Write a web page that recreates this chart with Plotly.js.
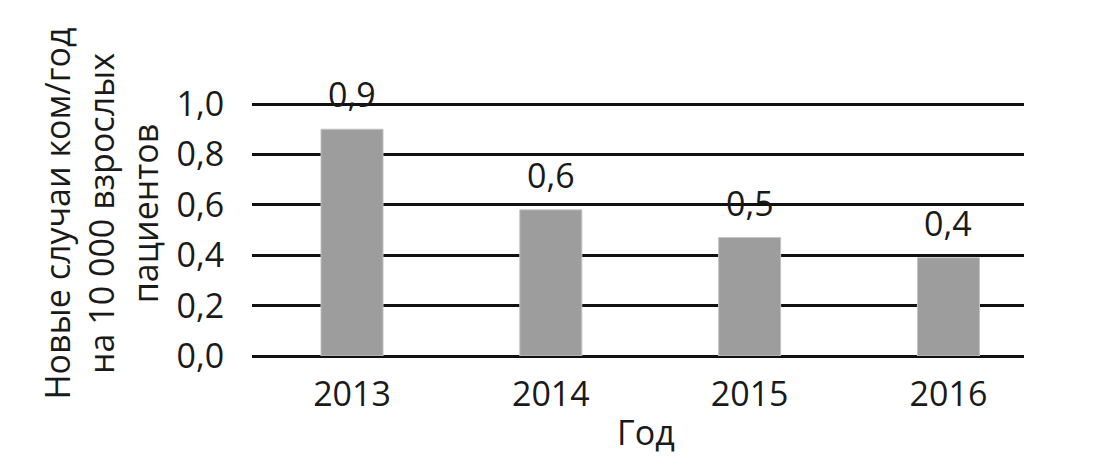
<!DOCTYPE html>
<html>
<head>
<meta charset="utf-8">
<script src="https://cdn.plot.ly/plotly-3.0.1.min.js"></script>
<style>html,body{margin:0;padding:0;background:#fff;}#chart{width:1114px;height:466px;}</style>
</head>
<body>
<div id="chart"></div>
<script>
const years = ['2013', '2014', '2015', '2016'];
const values = [0.9, 0.58, 0.47, 0.39];
const valueLabels = ['0,9', '0,6', '0,5', '0,4'];
const yTickVals = [0, 0.2, 0.4, 0.6, 0.8, 1.0];
const yTickText = ['0,0', '0,2', '0,4', '0,6', '0,8', '1,0'];
const yTitle = 'Новые случаи ком/год<br>на 10 000 взрослых<br>пациентов';
const xTitle = 'Год';

const FONT = '"Open Sans", "Noto Sans", sans-serif';
const TXT = '#1a1a1a';

const trace = {
  type: 'bar',
  x: years,
  y: values,
  width: 0.312,
  marker: {color: '#9d9d9d', line: {color: '#c4c4c4', width: 1}},
  hoverinfo: 'none'
};

const annotations = years.map((yr, i) => ({
  x: i, y: values[i], xref: 'x', yref: 'y',
  text: valueLabels[i], showarrow: false,
  yanchor: 'bottom', yshift: 10,
  font: {family: FONT, size: 34, color: TXT}
}));
annotations.push({
  xref: 'paper', yref: 'paper', x: -0.196, y: 0.56,
  xanchor: 'center', yanchor: 'middle', textangle: -90,
  text: yTitle, showarrow: false,
  font: {family: FONT, size: 34, color: TXT}
});
annotations.push({
  xref: 'paper', yref: 'paper', x: 0.51, y: -0.3,
  xanchor: 'center', yanchor: 'middle',
  text: xTitle, showarrow: false,
  font: {family: FONT, size: 34, color: TXT}
});

const layout = {
  width: 1114, height: 466,
  margin: {l: 252, r: 90, t: 102, b: 110},
  paper_bgcolor: '#fff', plot_bgcolor: '#fff',
  showlegend: false,
  font: {family: FONT, size: 34, color: TXT},
  xaxis: {
    type: 'category', range: [-0.503, 3.38],
    showgrid: false, showline: false, zeroline: false,
    ticks: 'outside', ticklen: 8, tickcolor: 'rgba(0,0,0,0)',
    tickfont: {family: FONT, size: 34, color: TXT},
    fixedrange: true
  },
  yaxis: {
    range: [0, 1.008],
    tickvals: yTickVals, ticktext: yTickText,
    showgrid: true, gridcolor: '#111', gridwidth: 3,
    zeroline: true, zerolinecolor: '#111', zerolinewidth: 3,
    showline: false,
    ticks: 'outside', ticklen: 20, tickcolor: 'rgba(0,0,0,0)',
    tickfont: {family: FONT, size: 34, color: TXT},
    fixedrange: true
  },
  annotations: annotations
};

Plotly.newPlot('chart', [trace], layout, {displayModeBar: false, staticPlot: true});
</script>
</body>
</html>
